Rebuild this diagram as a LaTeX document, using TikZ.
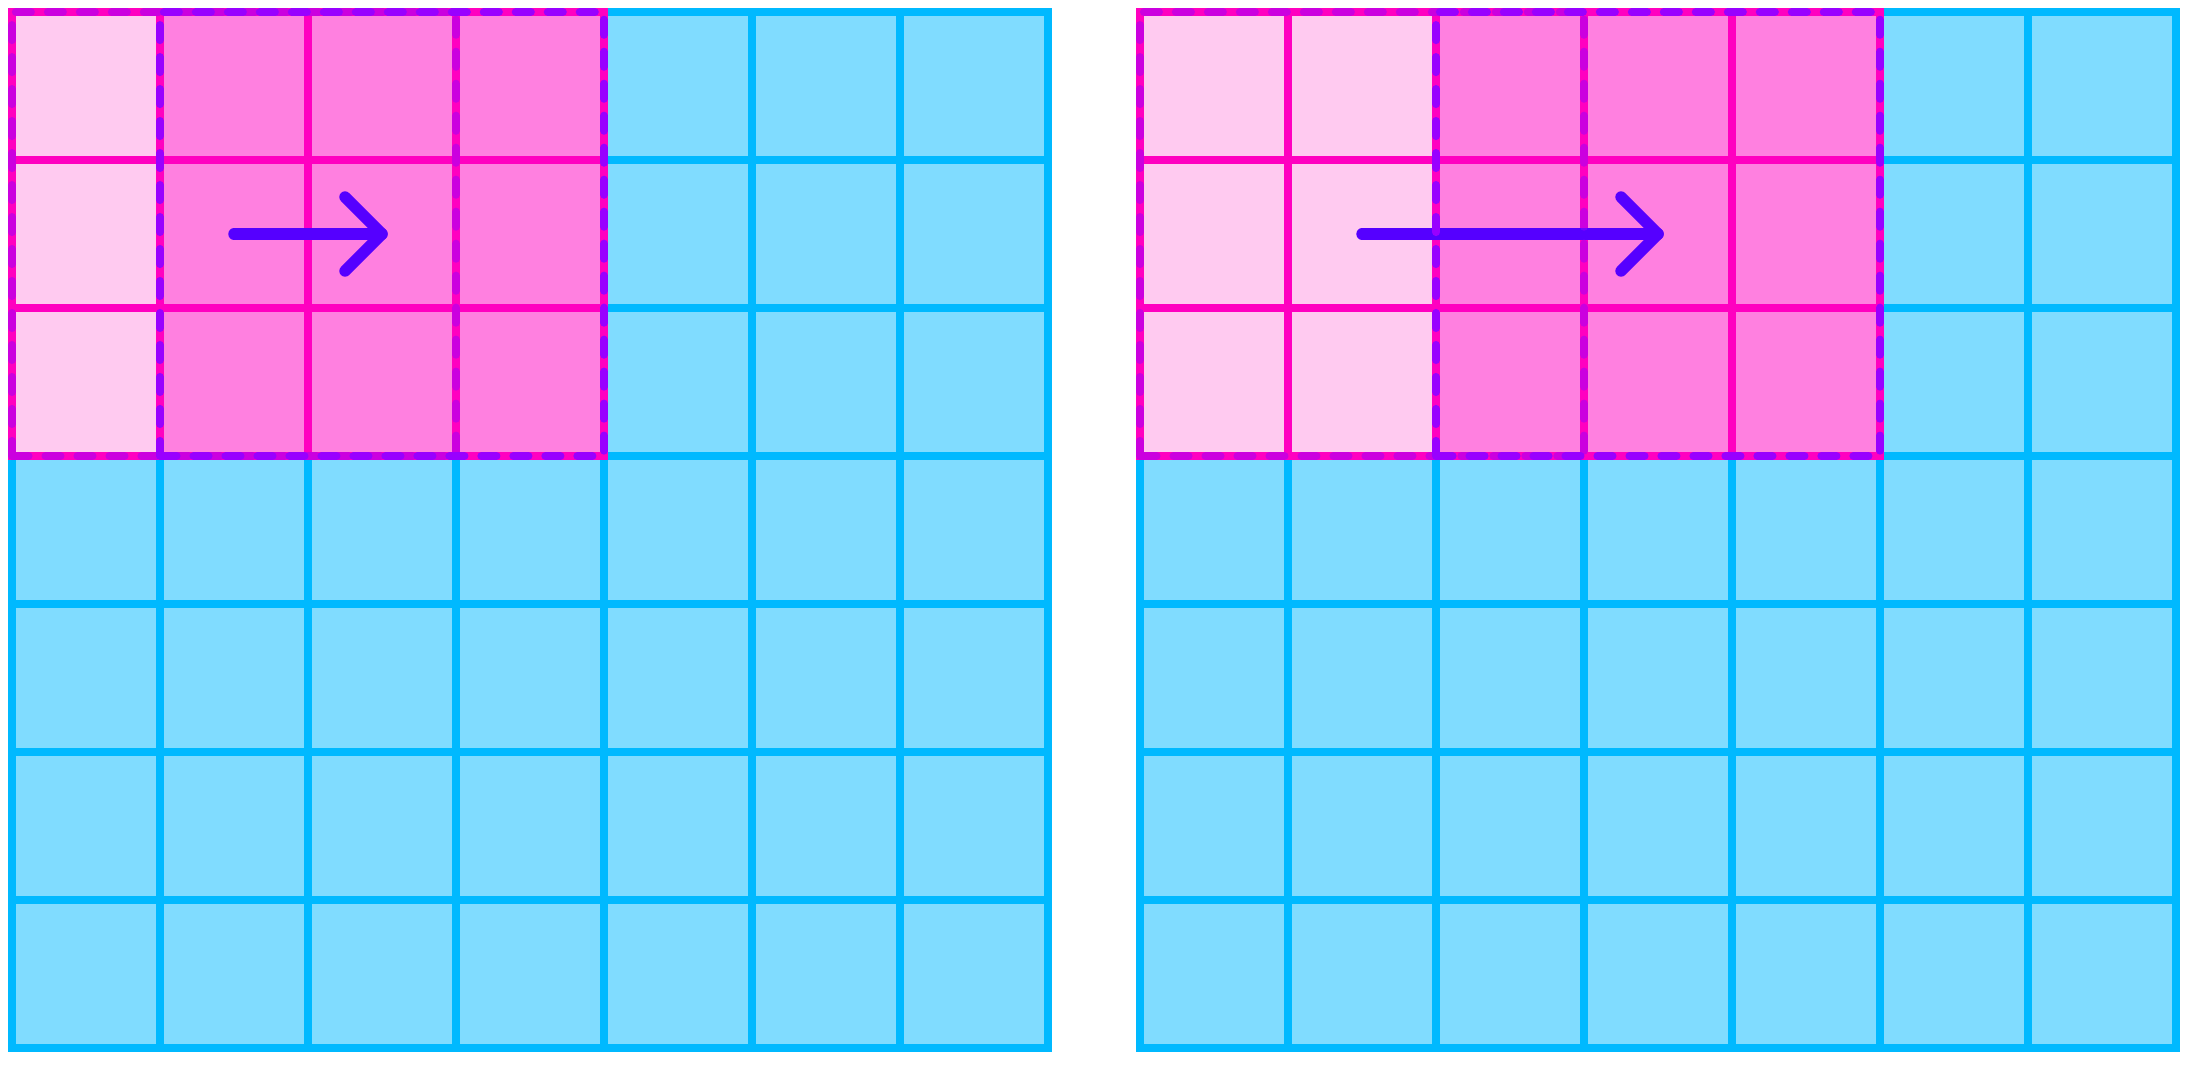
\documentclass[tikz,border=0pt]{standalone}
\usepackage{tikz}
\usetikzlibrary{arrows.meta}

\definecolor{gridblue}{HTML}{00B9FF}
\definecolor{cellblue}{HTML}{80DCFF}
\definecolor{winpink}{HTML}{FF00C0}
\definecolor{cellpink}{HTML}{FF80E0}
\definecolor{oldpink}{HTML}{FFCAF0}
\definecolor{winpurple}{HTML}{9900FF}
\definecolor{arrowviolet}{HTML}{5500FF}

\begin{document}
\begin{tikzpicture}[
    x=1cm, y=1cm,
    gridline/.style={draw=gridblue, line width=1.54pt, line cap=rect},
    pinkline/.style={draw=winpink, line width=1.54pt, line cap=rect},
    window/.style={draw=winpurple, line width=1.54pt, line cap=round,
                   dash pattern=on 2.9pt off 3.25pt},
    oldwindow/.style={window, draw opacity=0.5},
    move/.style={draw=arrowviolet, line width=2.2pt, line cap=round, line join=round}
]
\useasboundingbox (-0.0811,-0.1081) rectangle (14.7297,7.0811);

% stride 1
\begin{scope}
\fill[cellblue] (0,0) rectangle (7,7);
\fill[oldpink]  (0,4) rectangle (1,7);
\fill[cellpink] (1,4) rectangle (4,7);
\draw[gridline] (0,0) grid (7,7);
\draw[pinkline] (0,4) grid (4,7);
\coordinate (l-start) at (1.5,5.5);
\coordinate (l-end)   at (2.5,5.5);
\draw[move] (l-start) -- (l-end);
\draw[move] (l-end) ++(-0.25,0.25) -- (l-end) -- ++(-0.25,-0.25);
\draw[oldwindow] (0,4) rectangle (3,7);
\draw[window]    (1,4) rectangle (4,7);
\end{scope}

% stride 2
\begin{scope}[xshift=7.6216cm]
\fill[cellblue] (0,0) rectangle (7,7);
\fill[oldpink]  (0,4) rectangle (2,7);
\fill[cellpink] (2,4) rectangle (5,7);
\draw[gridline] (0,0) grid (7,7);
\draw[pinkline] (0,4) grid (5,7);
\coordinate (r-start) at (1.5,5.5);
\coordinate (r-end)   at (3.5,5.5);
\draw[move] (r-start) -- (r-end);
\draw[move] (r-end) ++(-0.25,0.25) -- (r-end) -- ++(-0.25,-0.25);
\draw[oldwindow] (0,4) rectangle (3,7);
\draw[window]    (2,4) rectangle (5,7);
\end{scope}
\end{tikzpicture}
\end{document}
